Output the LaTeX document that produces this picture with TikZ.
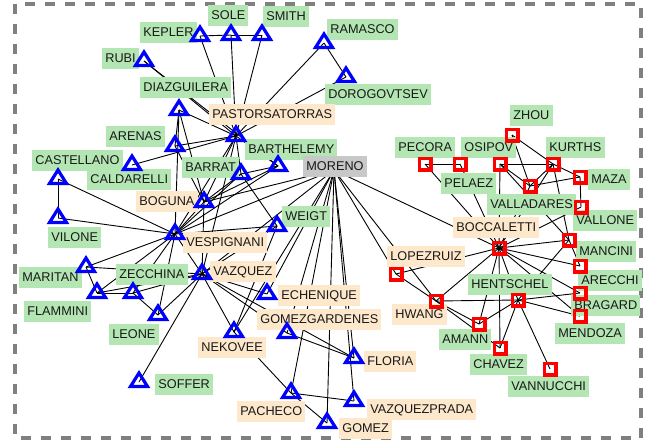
\documentclass[tikz,border=0pt]{standalone}
\usepackage{fontspec}
\setmainfont{Liberation Sans}
\definecolor{lg}{HTML}{B4E6B4}
\definecolor{pe}{HTML}{FDE8CC}
\definecolor{gr}{HTML}{C8C8C8}
\definecolor{bd}{HTML}{808080}
\tikzset{
 lab/.style={anchor=west, inner xsep=3.2pt, inner ysep=0pt, minimum height=21pt, text height=9.2pt, text depth=0pt, font=\fontsize{12.7}{15}\selectfont, text=black!90},
 glab/.style={lab, fill=lg}, plab/.style={lab, fill=pe}, mlab/.style={lab, fill=gr},
 edge/.style={line width=0.9pt, black},
 tri/.pic={\draw[blue, line width=3.2pt, line join=miter] (0,-9) -- (8.5,4.5) -- (-8.5,4.5) -- cycle;},
 sq/.pic={\draw[red, line width=3.4pt] (-5.8,-5.8) rectangle (5.8,5.8);}
}
\begin{document}
\begin{tikzpicture}[x=1pt,y=-1pt]
\useasboundingbox (0,0) rectangle (654,445);
\fill[white] (0,0) rectangle (654,445);
\draw[bd, line width=4pt, dash pattern=on 10pt off 10pt] (15,4) rectangle (641,438);
% triangle authors
\foreach \n/\x/\y in {KEPLER/200/36, SOLE/231/35, SMITH/262/35, RAMASCO/324/43, DOROG/346/77, RUBI/144/61, DIAZ/179/110, PAS/236/136, ARENAS/175/146, BARTH/278/166, BARRAT/241/174, CASTELLANO/58/179, CALDARELLI/132/165, BOGUNA/204/202, VILONE/58/218, VESP/175/234, WEIGT/277/226, MARITAN/86/267, ZECCHINA/133/293, FLAMMINI/97/293, LEONE/158/315, VAZQUEZ/202/274, SOFFER/139/382, NEKOVEE/234/332, ECHENIQUE/267/294, GOMEZG/287/333, FLORIA/354/358, PACHECO/291/393, VPRADA/354/401, GOMEZ/327/423}
  \coordinate (\n) at (\x,\y);
% square authors
\foreach \n/\x/\y in {ZHOU/512/135, PECORA/425/164, PELAEZ/460/164, OSIPOV/500/164, KURTHS/553/164, VALLADARES/530/186, MAZA/580/177, VALLONE/581/207, BOCC/499/248, MANCINI/569/240, ARECCHI/580/266, BRAGARD/580/293, MENDOZA/580/316, LOPEZRUIZ/396/274, HENTSCHEL/518/300, HWANG/436/301, AMANN/479/324, CHAVEZ/500/348, VANNUCCHI/550/369}
  \coordinate (\n) at (\x,\y);
\coordinate (MORENO) at (334,170);
% edges
\foreach \a/\b in {KEPLER/SOLE, SOLE/SMITH, KEPLER/PAS, SOLE/PAS, SMITH/PAS, RAMASCO/PAS, RAMASCO/DOROG, DOROG/PAS,
 RUBI/PAS, RUBI/BARTH, DIAZ/ARENAS, DIAZ/BOGUNA, DIAZ/PAS, DIAZ/VESP, ARENAS/PAS, CALDARELLI/PAS, ARENAS/BOGUNA,
 PAS/BARRAT, PAS/BOGUNA, PAS/VESP, PAS/BARTH, PAS/VAZQUEZ,
 BARRAT/BARTH, BARRAT/WEIGT, BARRAT/BOGUNA, BARRAT/VESP, BARTH/BOGUNA, BARTH/VESP,
 BOGUNA/VESP, BOGUNA/MORENO, BOGUNA/VAZQUEZ,
 VESP/MORENO, VESP/CASTELLANO, VESP/VILONE, VESP/MARITAN, VESP/ZECCHINA, VESP/FLAMMINI, VESP/LEONE, VESP/VAZQUEZ, VESP/WEIGT,
 CASTELLANO/VILONE, MARITAN/FLAMMINI, MARITAN/VAZQUEZ, FLAMMINI/ZECCHINA, FLAMMINI/VAZQUEZ, ZECCHINA/LEONE, ZECCHINA/VAZQUEZ, LEONE/VAZQUEZ,
 VAZQUEZ/SOFFER, VAZQUEZ/NEKOVEE, VAZQUEZ/ECHENIQUE, VAZQUEZ/GOMEZG, VAZQUEZ/FLORIA, VAZQUEZ/WEIGT, VAZQUEZ/MORENO,
 NEKOVEE/MORENO, NEKOVEE/PACHECO, NEKOVEE/WEIGT,
 ECHENIQUE/MORENO, GOMEZG/MORENO, GOMEZG/FLORIA, PACHECO/MORENO, PACHECO/VPRADA, PACHECO/GOMEZ, GOMEZ/MORENO, FLORIA/MORENO, VPRADA/MORENO,
 MORENO/LOPEZRUIZ, MORENO/HWANG, MORENO/BOCC,
 PECORA/PELAEZ, PECORA/BOCC, PELAEZ/BOCC, OSIPOV/KURTHS, OSIPOV/VALLADARES, OSIPOV/BOCC, OSIPOV/MANCINI,
 ZHOU/KURTHS, ZHOU/VALLADARES, KURTHS/VALLADARES, KURTHS/MAZA, KURTHS/MANCINI, KURTHS/BOCC, VALLADARES/MAZA, VALLADARES/BOCC,
 MAZA/VALLONE, BOCC/VALLONE, BOCC/MANCINI, BOCC/ARECCHI, BOCC/BRAGARD, BOCC/MENDOZA, BOCC/HENTSCHEL, BOCC/HWANG, BOCC/LOPEZRUIZ, BOCC/AMANN, BOCC/CHAVEZ,
 HENTSCHEL/HWANG, HENTSCHEL/AMANN, HENTSCHEL/CHAVEZ, HENTSCHEL/VANNUCCHI, HENTSCHEL/BRAGARD, HENTSCHEL/MENDOZA, HENTSCHEL/MANCINI,
 LOPEZRUIZ/HWANG, HWANG/AMANN, HWANG/CHAVEZ, MANCINI/ARECCHI}
  \draw[edge] (\a) -- (\b);
% labels
\node[glab] (KEPLER-l) at (140,32) {KEPLER};
\node[glab] (SOLE-l) at (208,15) {SOLE};
\node[glab] (SMITH-l) at (263,16) {SMITH};
\node[glab] (RAMASCO-l) at (327,29) {RAMASCO};
\node[glab] (DOROG-l) at (325,94) {DOROGOVTSEV};
\node[glab] (RUBI-l) at (102,58) {RUBI};
\node[glab] (DIAZ-l) at (140,87) {DIAZGUILERA};
\node[plab] (PAS-l) at (209,114) {PASTORSATORRAS};
\node[glab] (ARENAS-l) at (106,136) {ARENAS};
\node[glab] (BARTH-l) at (245,149) {BARTHELEMY};
\node[glab] (BARRAT-l) at (182,167) {BARRAT};
\node[glab] (CASTELLANO-l) at (32,160) {CASTELLANO};
\node[glab] (CALDARELLI-l) at (87,179) {CALDARELLI};
\node[mlab] (MORENO-l) at (303,166) {MORENO};
\node[plab] (BOGUNA-l) at (136,201) {BOGUNA};
\node[glab] (VILONE-l) at (48,237) {VILONE};
\node[plab] (VESP-l) at (183,242) {VESPIGNANI};
\node[glab] (WEIGT-l) at (282,216) {WEIGT};
\node[glab] (MARITAN-l) at (19,277) {MARITAN};
\node[glab] (ZECCHINA-l) at (116,274) {ZECCHINA};
\node[plab] (VAZQUEZ-l) at (210,271) {VAZQUEZ};
\node[glab] (FLAMMINI-l) at (24,311) {FLAMMINI};
\node[glab] (LEONE-l) at (109,334) {LEONE};
\node[glab] (SOFFER-l) at (155,384) {SOFFER};
\node[plab] (NEKOVEE-l) at (198,347) {NEKOVEE};
\node[plab] (ECHENIQUE-l) at (278,295) {ECHENIQUE};
\node[plab] (GOMEZG-l) at (257,319) {GOMEZGARDENES};
\node[plab] (FLORIA-l) at (364,361) {FLORIA};
\node[plab] (PACHECO-l) at (237,411) {PACHECO};
\node[plab] (VPRADA-l) at (367,409) {VAZQUEZPRADA};
\node[plab] (GOMEZ-l) at (339,428) {GOMEZ};
\node[glab] (ZHOU-l) at (510,115) {ZHOU};
\node[glab] (PECORA-l) at (395,147) {PECORA};
\node[glab] (PELAEZ-l) at (441,183) {PELAEZ};
\node[glab] (OSIPOV-l) at (461,147) {OSIPOV};
\node[glab] (KURTHS-l) at (546,147) {KURTHS};
\node[glab] (VALLADARES-l) at (487,204) {VALLADARES};
\node[glab] (MAZA-l) at (588,179) {MAZA};
\node[glab] (VALLONE-l) at (573,220) {VALLONE};
\node[plab] (BOCC-l) at (453,227) {BOCCALETTI};
\node[glab] (MANCINI-l) at (576,251) {MANCINI};
\node[glab] (ARECCHI-l) at (578,280) {ARECCHI};
\node[glab] (BRAGARD-l) at (571,305) {BRAGARD};
\node[glab] (MENDOZA-l) at (555,333) {MENDOZA};
\node[plab] (LOPEZRUIZ-l) at (387,256) {LOPEZRUIZ};
\node[glab] (HENTSCHEL-l) at (468,284) {HENTSCHEL};
\node[plab] (HWANG-l) at (392,314) {HWANG};
\node[glab] (AMANN-l) at (439,339) {AMANN};
\node[glab] (CHAVEZ-l) at (470,364) {CHAVEZ};
\node[glab] (VANNUCCHI-l) at (508,386) {VANNUCCHI};
% markers
\foreach \n in {KEPLER, SOLE, SMITH, RAMASCO, DOROG, RUBI, DIAZ, PAS, ARENAS, BARTH, BARRAT, CASTELLANO, CALDARELLI, BOGUNA, VILONE, VESP, WEIGT, MARITAN, ZECCHINA, FLAMMINI, LEONE, VAZQUEZ, SOFFER, NEKOVEE, ECHENIQUE, GOMEZG, FLORIA, PACHECO, VPRADA, GOMEZ}
  \pic at (\n) {tri};
\foreach \n in {ZHOU, PECORA, PELAEZ, OSIPOV, KURTHS, VALLADARES, MAZA, VALLONE, BOCC, MANCINI, ARECCHI, BRAGARD, MENDOZA, LOPEZRUIZ, HENTSCHEL, HWANG, AMANN, CHAVEZ, VANNUCCHI}
  \pic at (\n) {sq};
\end{tikzpicture}
\end{document}
